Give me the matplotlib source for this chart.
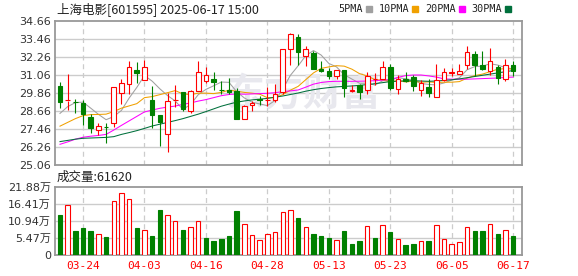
import numpy as np
import matplotlib
matplotlib.use('Agg')
import matplotlib.pyplot as plt
from matplotlib.patches import Rectangle

plt.rcParams['font.family'] = ['DejaVu Sans', 'Noto Sans CJK SC']

# daily candles, 2025-03-19 .. 2025-06-17
opens = [30.35, 29.36, 29.27, 29.16, 28.29, 27.41, 27.62, 27.88, 29.86, 30.46,
         31.41, 30.70, 29.40, 28.36, 27.15, 29.36, 29.91, 28.69, 29.97, 30.66,
         30.81, 30.07, 30.08, 29.97, 28.14, 29.09, 29.45, 29.37, 29.38, 29.91,
         32.78, 33.62, 32.30, 32.54, 31.48, 31.34, 30.99, 31.41, 30.00, 30.37,
         30.04, 30.77, 30.81, 31.59, 30.11, 30.81, 30.92, 30.08, 30.26, 29.60,
         30.70, 31.22, 31.12, 31.74, 32.47, 31.70, 31.34, 31.59, 30.81, 31.70]
highs = [30.57, 31.12, 29.49, 29.42, 28.49, 27.88, 27.83, 30.26, 30.79, 31.99,
         31.94, 32.07, 30.35, 28.36, 29.87, 30.39, 29.95, 30.08, 32.01, 31.57,
         31.23, 30.64, 30.86, 30.19, 29.09, 29.31, 29.64, 30.26, 30.48, 32.78,
         33.89, 33.80, 32.96, 32.69, 31.96, 31.52, 31.41, 31.41, 30.37, 30.48,
         31.25, 31.20, 32.01, 31.81, 31.03, 31.25, 31.03, 30.75, 30.79, 31.79,
         31.52, 31.52, 31.79, 32.98, 32.65, 32.65, 32.85, 31.70, 32.14, 31.99]
lows = [28.87, 28.72, 28.54, 27.72, 27.22, 27.06, 26.55, 27.61, 29.14, 29.82,
        30.53, 30.70, 27.55, 26.33, 25.94, 28.93, 28.69, 28.54, 29.97, 30.53,
        30.09, 29.82, 29.82, 28.10, 28.10, 28.65, 29.09, 28.98, 29.27, 29.82,
        31.70, 31.72, 31.68, 31.48, 31.26, 30.77, 30.81, 29.60, 29.93, 29.44,
        29.82, 30.42, 30.81, 30.08, 29.78, 30.60, 29.98, 29.64, 29.61, 29.60,
        30.66, 30.99, 31.10, 31.48, 30.99, 31.40, 31.08, 30.48, 30.64, 31.00]
closes = [29.25, 29.40, 29.23, 28.43, 27.53, 27.63, 27.58, 30.26, 30.52, 31.59,
          31.19, 31.59, 28.38, 27.94, 29.33, 29.40, 28.80, 29.97, 31.26, 31.08,
          30.59, 30.03, 29.91, 28.14, 28.98, 29.20, 29.40, 29.41, 29.82, 32.78,
          33.80, 32.57, 32.80, 31.48, 31.32, 30.99, 31.41, 30.20, 30.03, 29.93,
          30.99, 30.80, 31.59, 30.22, 30.81, 30.64, 30.30, 30.52, 29.86, 30.70,
          31.25, 31.27, 31.32, 32.58, 31.74, 31.43, 32.00, 30.86, 31.70, 31.30]
# volume in lots (手)
volumes = [129000, 160000, 76000, 88000, 76000, 66000, 57000, 175000, 200000, 181000,
           88000, 81000, 60000, 145000, 129000, 109000, 79000, 91000, 111000, 55000,
           44000, 53000, 62500, 141000, 99000, 65000, 47000, 68000, 75000, 137500,
           146000, 118000, 91000, 66000, 61000, 55000, 49000, 78000, 34000, 44000,
           94000, 55000, 97000, 73000, 52000, 31000, 34000, 44000, 44000, 97000,
           52000, 36000, 41000, 91000, 78000, 78000, 99000, 66000, 81000, 61620]

ma5 = [28.50, 28.95, 29.22, 29.25, 28.85, 28.44, 28.08, 28.29, 28.70, 29.52,
       30.23, 31.03, 30.65, 30.14, 29.69, 29.33, 28.77, 29.09, 29.75, 30.10,
       30.34, 30.59, 30.57, 29.95, 29.53, 29.25, 29.13, 29.02, 29.36, 30.12,
       31.04, 31.67, 32.35, 32.69, 32.39, 31.83, 31.60, 31.08, 30.79, 30.51,
       30.51, 30.39, 30.67, 30.71, 30.88, 30.81, 30.71, 30.50, 30.43, 30.40,
       30.53, 30.72, 30.87, 31.41, 31.62, 31.65, 31.81, 31.72, 31.55, 31.46]
ma10 = [27.65, 27.90, 28.15, 28.35, 28.42, 28.43, 28.45, 28.62, 28.85, 29.00,
        29.15, 29.55, 29.62, 29.75, 29.88, 30.02, 29.80, 29.75, 29.85, 29.85,
        29.82, 29.90, 30.05, 29.98, 29.90, 29.85, 29.78, 29.55, 29.55, 29.75,
        30.05, 30.30, 30.75, 31.20, 31.50, 31.60, 31.68, 31.65, 31.45, 31.15,
        31.00, 30.75, 30.72, 30.62, 30.68, 30.60, 30.65, 30.58, 30.60, 30.56,
        30.58, 30.58, 30.62, 30.85, 31.02, 31.12, 31.28, 31.45, 31.48, 31.45]
ma20 = [26.44, 26.60, 26.78, 26.91, 26.98, 27.03, 27.10, 27.39, 27.70, 28.00,
        28.30, 28.60, 28.72, 28.84, 28.92, 28.99, 29.10, 29.20, 29.32, 29.42,
        29.55, 29.68, 29.76, 29.80, 29.78, 29.80, 29.82, 29.84, 29.88, 29.95,
        30.00, 30.06, 30.25, 30.45, 30.56, 30.62, 30.64, 30.64, 30.64, 30.65,
        30.66, 30.68, 30.72, 30.76, 30.90, 31.02, 31.06, 31.06, 31.00, 30.92,
        30.80, 30.78, 30.78, 30.78, 30.80, 30.82, 30.84, 30.86, 30.90, 30.92]
ma30 = [26.62, 26.70, 26.78, 26.84, 26.86, 26.88, 26.90, 26.95, 27.10, 27.22,
        27.35, 27.50, 27.66, 27.78, 27.90, 28.02, 28.15, 28.30, 28.45, 28.62,
        28.80, 28.98, 29.12, 29.25, 29.33, 29.40, 29.45, 29.50, 29.58, 29.66,
        29.76, 29.86, 29.98, 30.08, 30.16, 30.22, 30.27, 30.30, 30.33, 30.37,
        30.42, 30.48, 30.55, 30.62, 30.65, 30.67, 30.68, 30.66, 30.64, 30.66,
        30.70, 30.74, 30.80, 30.88, 30.96, 31.04, 31.12, 31.20, 31.28, 31.36]

tick_idx = [3, 11, 19, 27, 35, 43, 51, 59]
tick_lab = ['03-24', '04-03', '04-16', '04-28', '05-13', '05-23', '06-05', '06-17']
price_ticks = [25.06, 26.26, 27.46, 28.66, 29.86, 31.06, 32.26, 33.46, 34.66]
vol_ticks = [0, 5.47, 10.94, 16.41, 21.88]

RED = '#ff0000'
GREEN = '#008000'
ma_names = ['5PMA', '10PMA', '20PMA', '30PMA']
ma_colors = ['#a0a0a0', '#f0a000', '#ff00ff', '#00703c']

o = np.array(opens); h = np.array(highs); l = np.array(lows); c = np.array(closes)
x = np.arange(len(c))
up = c >= o
vol_up = np.r_[False, c[1:] >= c[:-1]]
W, H = 578, 276

fig = plt.figure(figsize=(W / 100, H / 100), dpi=100)
ax = fig.add_axes([55 / W, 1 - 165 / H, 467 / W, 144 / H])
axv = fig.add_axes([55 / W, 1 - 255 / H, 467 / W, 68 / H])

for a in (ax, axv):
    for s in a.spines.values():
        s.set_color('#999999')
        s.set_linewidth(1.3)
    a.set_xlim(-0.65, 60.15)
    a.tick_params(length=0, labelsize=8, colors='#333333', pad=3)
    for t in tick_idx:
        a.axvline(t, color='#cccccc', lw=0.9, ls=(0, (4, 3)), zorder=0)

# price panel
ax.set_ylim(25.06, 34.66)
ax.set_yticks(price_ticks)
ax.set_yticklabels(['%.2f' % v for v in price_ticks])
ax.set_xticks([])
for v in price_ticks[1:-1]:
    ax.axhline(v, color='#cccccc', lw=1, zorder=0)
ax.text(0.525, 0.655, '东方财富', transform=fig.transFigure, ha='center', va='center',
        fontsize=28, fontweight='bold', style='italic', color='#e8e8ee',
        family=['Noto Sans CJK SC'], zorder=0.5)

for ma, col in zip([ma5, ma10, ma20, ma30], ma_colors):
    ax.plot(x, ma, color=col, lw=0.75, zorder=2)

top = np.maximum(o, c)
bot = np.minimum(o, c)
colors = np.where(up, RED, GREEN)
ax.vlines(x, top, h, colors=colors, lw=0.8, zorder=3)
ax.vlines(x, l, bot, colors=colors, lw=0.8, zorder=3)
ax.bar(x, np.maximum(top - bot, 0.02), bottom=bot, width=0.6,
       color=np.where(up, 'white', GREEN), edgecolor=colors, lw=0.8, zorder=4)

# volume panel
vw = np.array(volumes) / 1e4
axv.set_ylim(0, 21.88)
axv.set_yticks(vol_ticks)
axv.set_yticklabels(['0'] + ['%.2f万' % v for v in vol_ticks[1:]])
for v in vol_ticks[1:-1]:
    axv.axhline(v, color='#cccccc', lw=1, zorder=0)
vcol = np.where(vol_up, RED, GREEN)
axv.bar(x, vw, width=0.58, color=np.where(vol_up, 'white', GREEN),
        edgecolor=vcol, lw=0.8, zorder=3)
axv.set_xticks(tick_idx)
axv.set_xticklabels(tick_lab, color=RED, family='DejaVu Sans Mono', fontsize=8)
axv.tick_params(axis='x', pad=4)

# header texts
fig.text(57 / W, 1 - 9 / H, '上海电影[601595] 2025-06-17 15:00', fontsize=9,
         va='center', color='#222222', family=['Noto Sans CJK SC', 'DejaVu Sans'])
fig.text(57 / W, 1 - 177 / H, '成交量:%d' % volumes[-1], fontsize=9,
         va='center', color='#222222', family=['Noto Sans CJK SC', 'DejaVu Sans'])

fig.canvas.draw()
r = fig.canvas.get_renderer()
px = 338
for name, col in zip(ma_names, ma_colors):
    t = fig.text(px / W, 1 - 9 / H, name, fontsize=7.3, va='center',
                 family='DejaVu Sans Mono', color='#222222')
    w = t.get_window_extent(r).width
    px += w + 3
    fig.patches.append(Rectangle((px / W, 1 - 12 / H), 6 / W, 6 / H,
                                 transform=fig.transFigure, color=col))
    px += 6 + 7

fig.savefig('out.png', dpi=100)
